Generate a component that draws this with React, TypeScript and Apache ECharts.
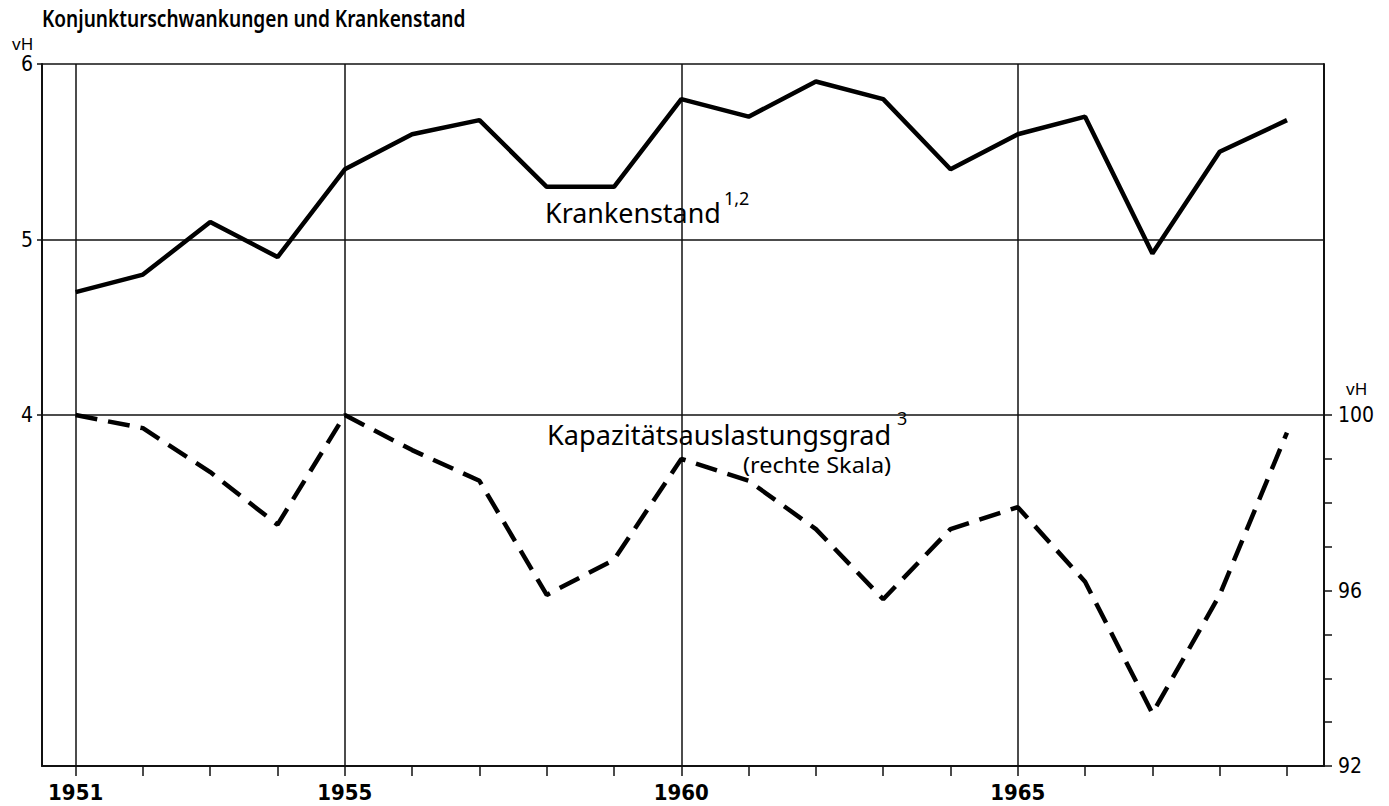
import React, { useEffect, useRef } from "react";
import * as echarts from "echarts";

const years = [1951, 1952, 1953, 1954, 1955, 1956, 1957, 1958, 1959, 1960, 1961, 1962, 1963, 1964, 1965, 1966, 1967, 1968, 1969];
const krankenstand = [4.7, 4.8, 5.1, 4.9, 5.4, 5.6, 5.68, 5.3, 5.3, 5.8, 5.7, 5.9, 5.8, 5.4, 5.6, 5.7, 4.92, 5.5, 5.68];
const kapazitaet = [100.0, 99.7, 98.7, 97.5, 100.0, 99.2, 98.5, 95.9, 96.7, 99.0, 98.5, 97.4, 95.8, 97.4, 97.9, 96.2, 93.2, 95.9, 99.6];
const yearLabels = [1951, 1955, 1960, 1965];
const leftLabels = [4, 5, 6];
const rightLabels = [92, 96, 100];
const rightTicks = [92, 93, 94, 95, 96, 97, 98, 99, 100];

const SANS = '"Noto Sans", "DejaVu Sans", sans-serif';
const NARROW = '"Liberation Sans Narrow", "DejaVu Sans Condensed", "Liberation Sans", sans-serif';

export default function App() {
  const ref = useRef<HTMLDivElement>(null);
  useEffect(() => {
    if (!ref.current) return;
    const chart = echarts.init(ref.current, null, { renderer: "svg" });
    const lineColor = "#111";
    chart.setOption({
      animation: false,
      backgroundColor: "#fff",
      grid: { left: 42, right: 65, top: 64, bottom: 40 },
      xAxis: {
        type: "value",
        min: 1950.5,
        max: 1969.55,
        axisLine: { show: true, lineStyle: { color: lineColor, width: 2 } },
        axisTick: { show: true, customValues: years, length: 10, lineStyle: { color: lineColor, width: 1.5 } },
        axisLabel: {
          customValues: yearLabels,
          formatter: (v: number) => String(v),
          fontSize: 22,
          fontWeight: "bold",
          fontFamily: NARROW,
          color: "#000",
          margin: 15,
        },
        splitLine: { show: false },
      },
      yAxis: [
        {
          type: "value",
          position: "left",
          min: 2,
          max: 6,
          interval: 1,
          axisLine: { show: true, lineStyle: { color: lineColor, width: 2 } },
          axisTick: { show: true, customValues: leftLabels, length: 5, lineStyle: { color: lineColor, width: 1.5 } },
          axisLabel: { customValues: leftLabels, fontSize: 21, fontFamily: NARROW, color: "#000", margin: 9 },
          splitLine: { show: true, lineStyle: { color: lineColor, width: 1.5 } },
        },
        {
          type: "value",
          position: "right",
          min: 92,
          max: 108,
          interval: 4,
          axisLine: { show: true, lineStyle: { color: lineColor, width: 2 } },
          axisTick: { show: true, customValues: rightTicks, length: 8, lineStyle: { color: lineColor, width: 1.5 } },
          axisLabel: { customValues: rightLabels, fontSize: 21, fontFamily: NARROW, color: "#000", margin: 14 },
          splitLine: { show: false },
        },
      ],
      series: [
        {
          type: "line",
          name: "Krankenstand",
          yAxisIndex: 0,
          data: years.map((y, i) => [y, krankenstand[i]]),
          symbol: "none",
          lineStyle: { color: "#000", width: 4.5 },
          z: 3,
          markLine: {
            silent: true,
            symbol: ["none", "none"],
            label: { show: false },
            lineStyle: { type: "solid", color: lineColor, width: 1.5 },
            z: 1,
            data: yearLabels.map((y) => ({ xAxis: y })),
          },
        },
        {
          type: "line",
          name: "Kapazitätsauslastungsgrad",
          yAxisIndex: 1,
          data: years.map((y, i) => [y, kapazitaet[i]]),
          symbol: "none",
          lineStyle: { color: "#000", width: 4.5, type: [22, 11] },
          z: 3,
        },
      ],
      graphic: [
        { type: "text", x: 42, y: 18, scaleX: 0.83, style: { text: "Konjunkturschwankungen und Krankenstand", font: `600 23px ${SANS}`, fill: "#000", verticalAlign: "middle" } },
        { type: "text", x: 12, y: 43, style: { text: "vH", font: `17px ${SANS}`, fill: "#000", verticalAlign: "middle" } },
        { type: "text", x: 1346, y: 388, style: { text: "vH", font: `17px ${SANS}`, fill: "#000", verticalAlign: "middle" } },
        { type: "text", x: 545, y: 212, scaleX: 0.96, style: { text: "Krankenstand", font: `28px ${SANS}`, fill: "#000", verticalAlign: "middle" } },
        { type: "text", x: 724, y: 198, style: { text: "1,2", font: `18px ${SANS}`, fill: "#000", verticalAlign: "middle" } },
        { type: "text", x: 547, y: 434, scaleX: 0.97, style: { text: "Kapazitätsauslastungsgrad", font: `28px ${SANS}`, fill: "#000", verticalAlign: "middle" } },
        { type: "text", x: 897, y: 418, style: { text: "3", font: `18px ${SANS}`, fill: "#000", verticalAlign: "middle" } },
        { type: "text", x: 743, y: 465, scaleX: 1.12, style: { text: "(rechte Skala)", font: `21px ${SANS}`, fill: "#000", verticalAlign: "middle" } },
      ],
    });
    return () => chart.dispose();
  }, []);
  return <div ref={ref} style={{ position: "absolute", left: 0, top: 0, width: 1389, height: 806 }} />;
}
